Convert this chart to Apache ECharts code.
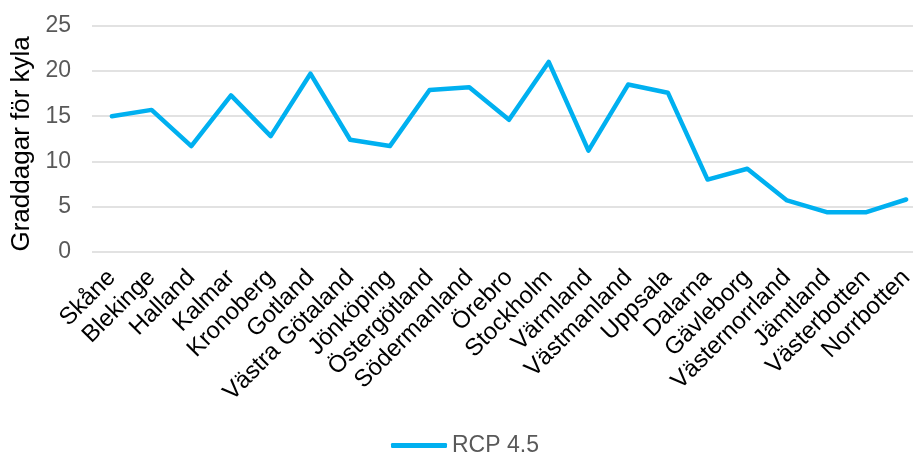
<!DOCTYPE html>
<html>
<head>
<meta charset="utf-8">
<script src="https://cdn.jsdelivr.net/npm/echarts@6/dist/echarts.min.js"></script>
<style>
  html, body { margin: 0; padding: 0; background: #fff; }
  #chart { width: 913px; height: 455px; }
</style>
</head>
<body>
<div id="chart"></div>
<script>
// Swedish counties, south to north
const categories = [
  'Skåne', 'Blekinge', 'Halland', 'Kalmar', 'Kronoberg', 'Gotland',
  'Västra Götaland', 'Jönköping', 'Östergötland', 'Södermanland', 'Örebro',
  'Stockholm', 'Värmland', 'Västmanland', 'Uppsala', 'Dalarna', 'Gävleborg',
  'Västernorrland', 'Jämtland', 'Västerbotten', 'Norrbotten'
];

// Cooling degree days per county, RCP 4.5 scenario
const rcp45 = [
  15.0, 15.7, 11.7, 17.3, 12.8, 19.7,
  12.4, 11.7, 17.9, 18.2, 14.6,
  21.0, 11.2, 18.5, 17.6, 8.0, 9.2,
  5.7, 4.4, 4.4, 5.8
];

const yTicks = { min: 0, max: 25, interval: 5 };
const seriesName = 'RCP 4.5';
const yAxisTitle = 'Graddagar för kyla';

const font = 'Liberation Sans, Arial, sans-serif';
const chart = echarts.init(document.getElementById('chart'), null, { renderer: 'canvas' });

chart.setOption({
  animation: false,
  backgroundColor: '#ffffff',
  // plot runs past the right edge of the canvas
  grid: { left: 92, top: 25.7, width: 834, bottom: 203, containLabel: false, outerBoundsMode: 'none' },
  legend: {
    data: [seriesName],
    left: 386,
    top: 429,
    itemWidth: 56,
    itemHeight: 5,
    itemGap: 4,
    icon: 'roundRect',
    textStyle: { color: '#595959', fontSize: 23, fontFamily: font }
  },
  xAxis: {
    type: 'category',
    data: categories,
    boundaryGap: true,
    axisLine: { show: false },
    axisTick: { show: false },
    axisLabel: {
      rotate: 45,
      interval: 0,
      margin: 22,
      color: '#000000',
      fontSize: 24,
      fontFamily: font
    }
  },
  yAxis: {
    type: 'value',
    min: yTicks.min,
    max: yTicks.max,
    interval: yTicks.interval,
    name: yAxisTitle,
    nameLocation: 'middle',
    nameGap: 54,
    nameTextStyle: { color: '#000000', fontSize: 26, fontFamily: font, padding: [0, 10, 0, 0] },
    axisLine: { show: false },
    axisTick: { show: false },
    axisLabel: { color: '#595959', fontSize: 23, fontFamily: font, margin: 21 },
    splitLine: { lineStyle: { color: '#d9d9d9', width: 1.5 } }
  },
  series: [{
    name: seriesName,
    type: 'line',
    data: rcp45,
    symbol: 'none',
    color: '#00b0f0',
    lineStyle: { color: '#00b0f0', width: 4.5, cap: 'round', join: 'round' }
  }]
});
</script>
</body>
</html>
